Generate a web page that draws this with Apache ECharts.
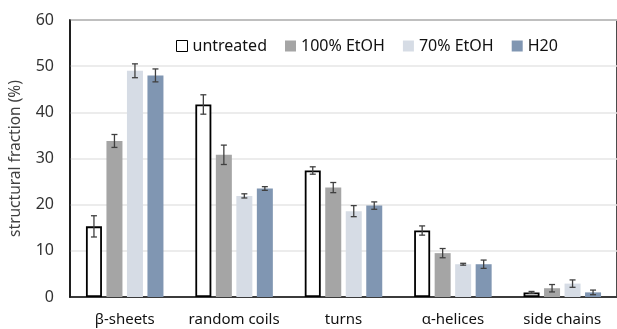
<!DOCTYPE html>
<html><head><meta charset="utf-8">
<script src="https://cdn.jsdelivr.net/npm/echarts@6/dist/echarts.min.js"></script>
<style>html,body{margin:0;padding:0;background:#fff}#c{width:617px;height:329px}</style>
</head><body><div id="c"></div>
<script>
const categories = ['β-sheets', 'random coils', 'turns', 'α-helices', 'side chains'];
const seriesNames = ['untreated', '100% EtOH', '70% EtOH', 'H20'];
const untreated = [15.3, 41.7, 27.4, 14.4, 1.0];
const etoh100 = [33.8, 30.8, 23.7, 9.5, 1.9];
const etoh70 = [49.0, 21.9, 18.6, 7.1, 2.9];
const h20 = [48.0, 23.5, 19.8, 7.1, 1.0];
const untreatedErr = [2.3, 2.1, 0.8, 1.0, 0.2];
const etoh100Err = [1.4, 2.1, 1.1, 1.0, 0.8];
const etoh70Err = [1.5, 0.45, 1.2, 0.2, 0.8];
const h20Err = [1.4, 0.4, 0.8, 0.9, 0.5];
const yTicks = [0, 10, 20, 30, 40, 50, 60];

const values = [untreated, etoh100, etoh70, h20];
const errs = [untreatedErr, etoh100Err, etoh70Err, h20Err];
const colors = ['#ffffff', '#a5a5a5', '#d6dce5', '#8096b2'];
const FONT = 'Noto Sans';
const BW = 16, GAP = 4.5;

const series = [];
values.forEach((v, i) => {
  series.push({
    name: seriesNames[i], type: 'bar', data: v, barWidth: BW, barGap: (GAP / BW * 100) + '%',
    itemStyle: i === 0 ? {color: '#fff', borderColor: '#000', borderWidth: 1.8} : {color: colors[i]},
    z: 2
  });
});
values.forEach((v, i) => {
  series.push({
    type: 'custom', name: 'err' + i, z: 5,
    data: v.map((val, k) => [k, val - errs[i][k], val + errs[i][k]]),
    encode: {x: 0, y: [1, 2]},
    renderItem: function (params, api) {
      const off = (i - 1.5) * (BW + GAP);
      const lo = api.coord([api.value(0), api.value(1)]);
      const hi = api.coord([api.value(0), api.value(2)]);
      const x = lo[0] + off, c = 3;
      const st = {stroke: '#404040', lineWidth: 1.3};
      return {type: 'group', children: [
        {type: 'line', shape: {x1: x, y1: lo[1], x2: x, y2: hi[1]}, style: st},
        {type: 'line', shape: {x1: x - c, y1: lo[1], x2: x + c, y2: lo[1]}, style: st},
        {type: 'line', shape: {x1: x - c, y1: hi[1], x2: x + c, y2: hi[1]}, style: st}
      ]};
    }
  });
});

const chart = echarts.init(document.getElementById('c'));
chart.setOption({
  animation: false,
  textStyle: {fontFamily: FONT},
  legend: {
    data: seriesNames.map((n, i) => i === 0
      ? {name: n, icon: 'rect', itemStyle: {borderWidth: 1, borderColor: '#000'}}
      : {name: n, icon: 'rect'}),
    top: 33, left: 171, itemWidth: 11, itemHeight: 11, itemGap: 18,
    textStyle: {fontFamily: FONT, fontSize: 16, color: '#111'}
  },
  grid: {left: 67, right: -5, top: 20, bottom: 32, show: true, borderColor: '#111', borderWidth: 1.5, backgroundColor: 'transparent'},
  xAxis: {
    type: 'category', data: categories,
    axisLine: {lineStyle: {color: '#111', width: 1.5}},
    axisTick: {show: false},
    axisLabel: {fontFamily: FONT, fontSize: 15, color: '#111', margin: 15, interval: 0}
  },
  yAxis: {
    type: 'value', min: yTicks[0], max: yTicks[yTicks.length - 1], interval: 10,
    name: 'structural fraction (%)', nameLocation: 'middle', nameGap: 46,
    nameTextStyle: {fontFamily: FONT, fontSize: 15.5, color: '#404040'},
    axisLine: {show: true, lineStyle: {color: '#111', width: 1.5}},
    axisTick: {show: false},
    axisLabel: {fontFamily: FONT, fontSize: 16, color: '#333', margin: 16},
    splitLine: {lineStyle: {color: '#e6e6e6', width: 1.5}}
  },
  series: series
});
</script></body></html>
